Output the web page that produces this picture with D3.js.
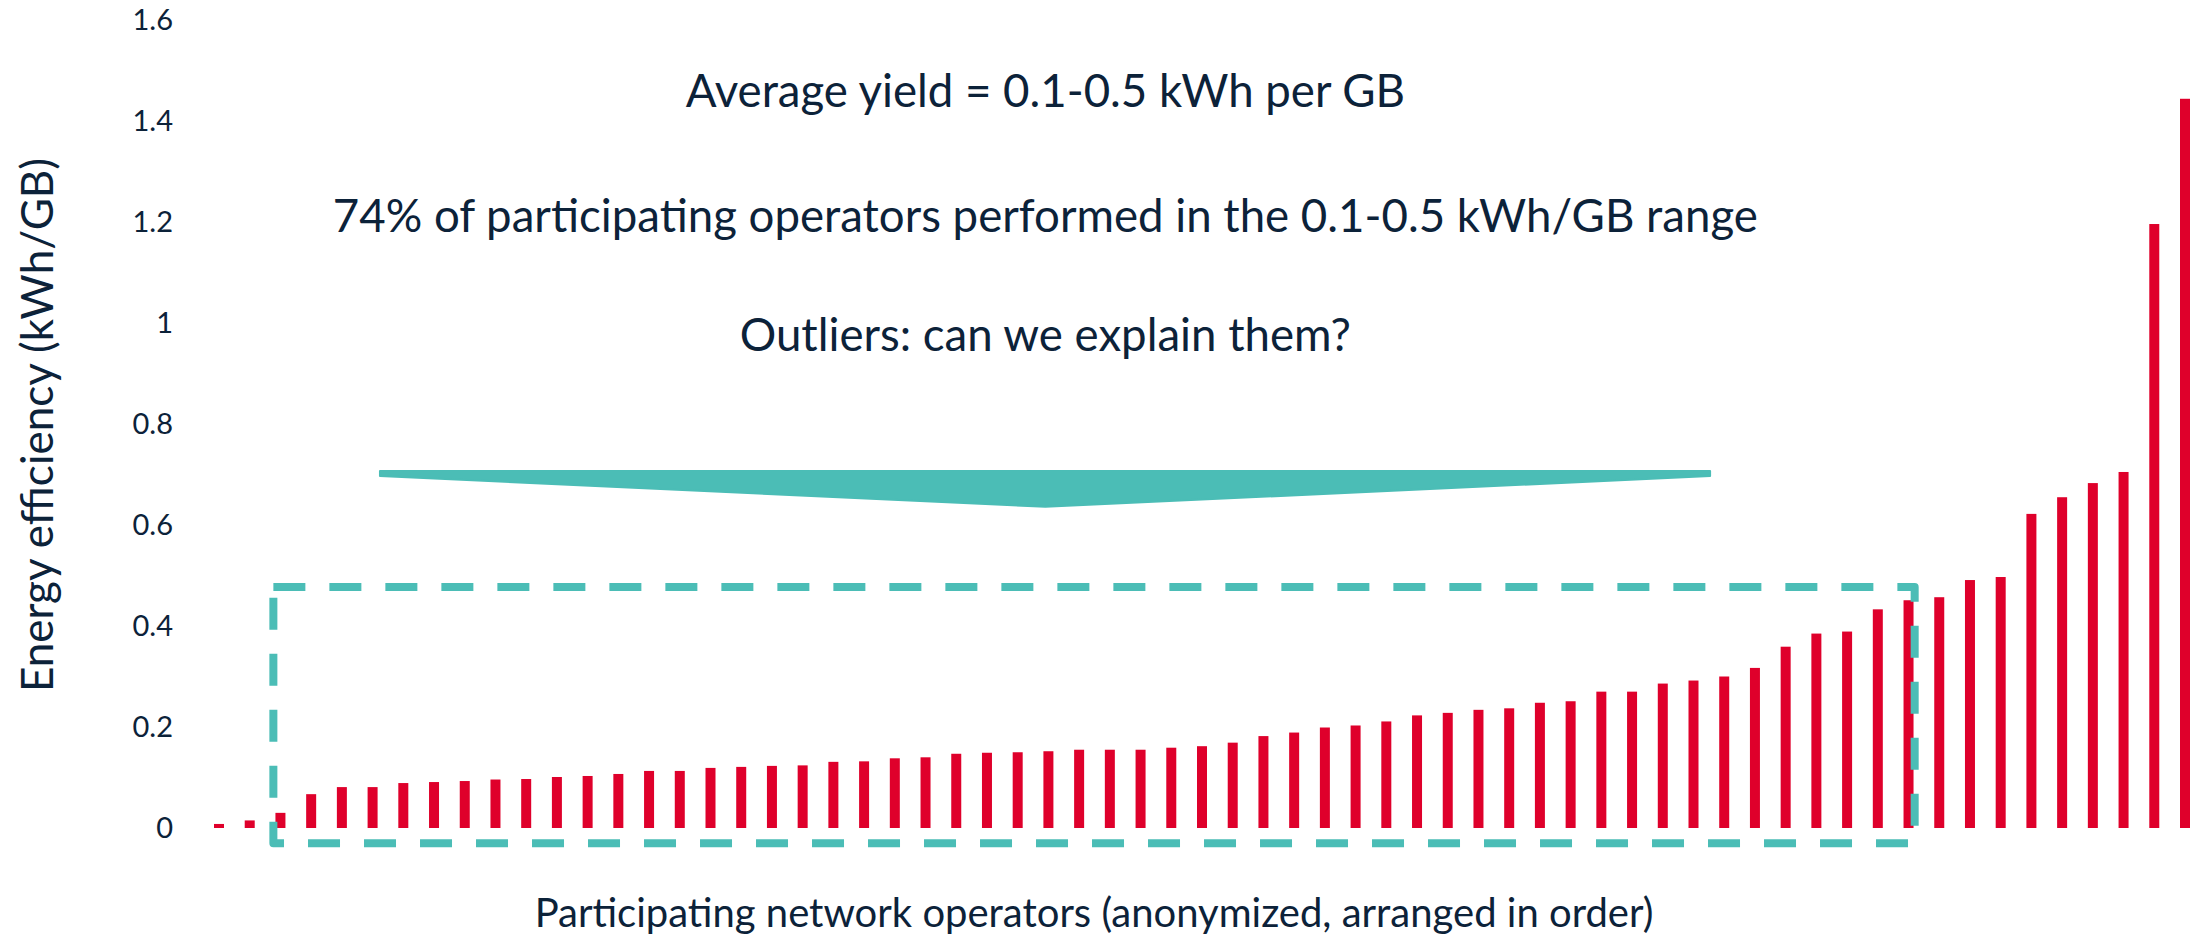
<!DOCTYPE html>
<html>
<head>
<meta charset="utf-8">
<script src="https://cdn.jsdelivr.net/npm/d3@7"></script>
<style>
  body { margin: 0; background: #fff; }
  svg { display: block; font-family: Lato, "Open Sans", sans-serif; }
</style>
</head>
<body>
<div id="chart-container"></div>
<script>
// operators are anonymized, only the order is known
var operators = d3.range(1, 66);
var efficiency = [0.008, 0.015, 0.030, 0.067, 0.081, 0.081, 0.089, 0.091, 0.093, 0.096,
                  0.097, 0.101, 0.103, 0.107, 0.113, 0.113, 0.119, 0.121, 0.123, 0.124,
                  0.131, 0.132, 0.138, 0.140, 0.147, 0.149, 0.150, 0.152, 0.155, 0.155,
                  0.155, 0.159, 0.162, 0.169, 0.182, 0.189, 0.199, 0.203, 0.211, 0.223,
                  0.228, 0.234, 0.237, 0.248, 0.251, 0.270, 0.270, 0.286, 0.292, 0.300,
                  0.317, 0.359, 0.385, 0.389, 0.433, 0.451, 0.457, 0.491, 0.497, 0.622,
                  0.655, 0.683, 0.705, 1.196, 1.444];
var yTicks = [0, 0.2, 0.4, 0.6, 0.8, 1, 1.2, 1.4, 1.6];
var notes = ["Average yield = 0.1-0.5 kWh per GB",
             "74% of participating operators performed in the 0.1-0.5 kWh/GB range",
             "Outliers: can we explain them?"];
var noteLevels = [1.428, 1.181, 0.945];
// highlighted group (operator index range, value range) and the arrow above it
var boxOps = [2.77, 56.2], boxVals = [-0.03, 0.477];
var arrowOps = [6.24, 27.9, 49.54], arrowVals = [0.707, 0.697, 0.636];

var width = 2211, height = 936;
var ink = "#0c2239", red = "#df002b", teal = "#4bbdb6";

var x = d3.scaleLinear().domain([1, 65]).range([219, 2185]);
var y = d3.scaleLinear().domain([0, 1.6]).range([828, 20]);
var barWidth = 10;

var data = operators.map(function(d, i) { return {op: d, value: efficiency[i]}; });

var svg = d3.select("#chart-container")
  .append("svg")
  .attr("width", width)
  .attr("height", height);

svg.append("rect").attr("width", width).attr("height", height).attr("fill", "#fff");

// Add the Y Axis (labels only)
svg.append("g")
  .attr("transform", "translate(173,0)")
  .call(d3.axisLeft(y).tickValues(yTicks).tickSize(0).tickPadding(0).tickFormat(d3.format("")))
  .call(g => g.select(".domain").remove())
  .call(g => g.selectAll(".tick text")
        .attr("fill", ink)
        .attr("font-size", 29)
        .attr("font-family", "Lato, sans-serif"));

// bars
svg.append("g").selectAll("rect")
  .data(data)
  .join("rect")
  .attr("x", d => x(d.op) - barWidth / 2)
  .attr("width", barWidth)
  .attr("y", d => y(d.value))
  .attr("height", d => y(0) - y(d.value))
  .attr("fill", red);

// dashed box round the 0.1-0.5 group
svg.append("rect")
  .attr("x", x(boxOps[0]))
  .attr("y", y(boxVals[1]))
  .attr("width", x(boxOps[1]) - x(boxOps[0]))
  .attr("height", y(boxVals[0]) - y(boxVals[1]))
  .attr("fill", "none")
  .attr("stroke", teal)
  .attr("stroke-width", 8)
  .attr("stroke-dasharray", "32,24")
  .attr("stroke-linejoin", "round");

// arrow pointing down to the box
var arrow = [[arrowOps[0], arrowVals[0]], [arrowOps[2], arrowVals[0]], [arrowOps[2], arrowVals[1]],
             [arrowOps[1], arrowVals[2]], [arrowOps[0], arrowVals[1]]];
svg.append("path")
  .attr("d", d3.line().x(d => x(d[0])).y(d => y(d[1]))(arrow) + "Z")
  .attr("fill", teal)
  .attr("stroke", teal)
  .attr("stroke-width", 2)
  .attr("stroke-linejoin", "round");

// notes
svg.append("g").selectAll("text")
  .data(notes)
  .join("text")
  .attr("x", x(arrowOps[1]))
  .attr("y", (d, i) => y(noteLevels[i]))
  .attr("text-anchor", "middle")
  .attr("fill", ink)
  .attr("font-size", 45.6)
  .text(d => d);

// axis titles
svg.append("text")
  .attr("transform", "translate(53,425) rotate(-90)")
  .attr("text-anchor", "middle")
  .attr("fill", ink)
  .attr("font-size", 44)
  .text("Energy efficiency (kWh/GB)");

svg.append("text")
  .attr("x", 1094)
  .attr("y", 927)
  .attr("text-anchor", "middle")
  .attr("fill", ink)
  .attr("font-size", 40)
  .text("Participating network operators (anonymized, arranged in order)");
</script>
</body>
</html>
